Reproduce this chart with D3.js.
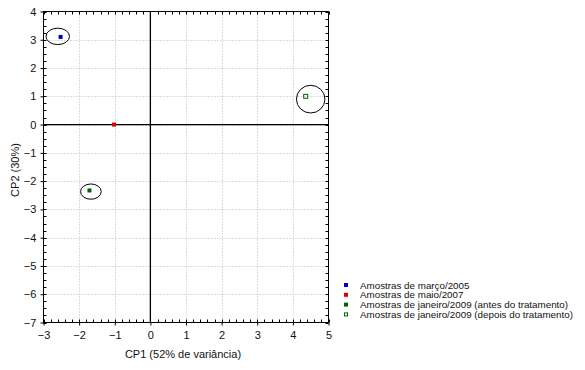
<!DOCTYPE html>
<html><head><meta charset="utf-8">
<script src="https://cdn.jsdelivr.net/npm/d3@7"></script>
<style>body{margin:0;background:#fff}svg{display:block;font-family:"Liberation Sans",Arial,sans-serif}</style>
</head><body>
<script>
const seriesNames = ["Amostras de março/2005","Amostras de maio/2007","Amostras de janeiro/2009 (antes do tratamento)","Amostras de janeiro/2009 (depois do tratamento)"];
const seriesColors = ["#0000cc","#dd0000","#006600","#006600"];
const seriesFilled = [true,true,true,false];
const cp1 = [-2.52,-1.02,-1.71,4.36];
const cp2 = [3.10,0.0,-2.33,1.00];
// ellipses around groups: center x, center y, radius x, radius y (data units)
const ellCx = [-2.6, null, -1.67, 4.5];
const ellCy = [3.12, null, -2.37, 0.9];
const ellRx = [0.33, null, 0.29, 0.4];
const ellRy = [0.29, null, 0.27, 0.49];
const xTicks = [-3,-2,-1,0,1,2,3,4,5];
const yTicks = [4,3,2,1,0,-1,-2,-3,-4,-5,-6,-7];
const xLabel = "CP1 (52% de variância)";
const yLabel = "CP2 (30%)";

const W=585,H=370;
const svg=d3.select("body").append("svg").attr("width",W).attr("height",H);
const x=d3.scaleLinear().domain([-3,5]).range([43.5,328.5]);
const y=d3.scaleLinear().domain([-7,4]).range([322.5,11.5]);

// grid
const g=svg.append("g");
g.selectAll(".gx").data(xTicks.slice(1,-1)).join("line")
 .attr("x1",d=>Math.round(x(d))+0.5).attr("x2",d=>Math.round(x(d))+0.5).attr("y1",y(4)).attr("y2",y(-7))
 .attr("stroke","#bbb").attr("stroke-dasharray","1,2").attr("stroke-width",1);
g.selectAll(".gy").data(yTicks.slice(1,-1)).join("line")
 .attr("y1",d=>Math.round(y(d))+0.5).attr("y2",d=>Math.round(y(d))+0.5).attr("x1",x(-3)).attr("x2",x(5))
 .attr("stroke","#bbb").attr("stroke-dasharray","1,2").attr("stroke-width",1);

// minor ticks (inward)
const xMinor=d3.range(-3,5.0001,0.2);
const yMinor=d3.range(-7,4.0001,0.25);
const tk=svg.append("g").attr("stroke","#000").attr("stroke-width",1);
xMinor.forEach(v=>{const px=Math.round(x(v))+0.5;
 tk.append("line").attr("x1",px).attr("x2",px).attr("y1",y(-7)).attr("y2",y(-7)-3);
 tk.append("line").attr("x1",px).attr("x2",px).attr("y1",y(4)).attr("y2",y(4)+3);});
yMinor.forEach(v=>{const py=Math.round(y(v))+0.5;
 tk.append("line").attr("y1",py).attr("y2",py).attr("x1",x(-3)).attr("x2",x(-3)+3);
 tk.append("line").attr("y1",py).attr("y2",py).attr("x1",x(5)).attr("x2",x(5)-3);});

// axes with major outward ticks
const ax=svg.append("g").attr("transform",`translate(0,${y(-7)})`)
 .call(d3.axisBottom(x).tickValues(xTicks).tickSize(3).tickSizeOuter(0).tickFormat(d3.format("d")));
const ay=svg.append("g").attr("transform",`translate(${x(-3)},0)`)
 .call(d3.axisLeft(y).tickValues(yTicks).tickSize(3).tickSizeOuter(0).tickFormat(d3.format("d")));
[ax,ay].forEach(a=>{a.select(".domain").remove();a.selectAll("text").attr("font-size",11).attr("fill","#111").attr("font-family","'Liberation Sans',Arial,sans-serif");});
ax.selectAll("text").attr("dy","0.95em");
ay.selectAll("text").attr("dx","-0.1em");

// frame
svg.append("rect").attr("x",x(-3)).attr("y",y(4)).attr("width",x(5)-x(-3)).attr("height",y(-7)-y(4))
 .attr("fill","none").attr("stroke","#000").attr("stroke-width",1);
// zero lines
svg.append("line").attr("x1",x(-3)).attr("x2",x(5)).attr("y1",y(0)).attr("y2",y(0)).attr("stroke","#000").attr("stroke-width",1.3);
svg.append("line").attr("x1",x(0)).attr("x2",x(0)).attr("y1",y(4)).attr("y2",y(-7)).attr("stroke","#000").attr("stroke-width",1.3);

// ellipses
const ellIdx=d3.range(ellCx.length).filter(i=>ellCx[i]!==null);
svg.selectAll(".ell").data(ellIdx).join("ellipse")
 .attr("cx",i=>x(ellCx[i])).attr("cy",i=>y(ellCy[i]))
 .attr("rx",i=>x(ellRx[i])-x(0)).attr("ry",i=>y(0)-y(ellRy[i]))
 .attr("fill","none").attr("stroke","#000").attr("stroke-width",1);

// points
svg.selectAll(".pt").data(d3.range(cp1.length)).join("rect")
 .attr("x",i=>x(cp1[i])-2).attr("y",i=>y(cp2[i])-2).attr("width",4).attr("height",4)
 .attr("fill",i=>seriesFilled[i]?seriesColors[i]:"none")
 .attr("stroke",i=>seriesColors[i]).attr("stroke-width",i=>seriesFilled[i]?0:1);

// axis titles
svg.append("text").attr("x",183).attr("y",358).attr("text-anchor","middle").attr("font-size",11).attr("fill","#111").text(xLabel);
svg.append("text").attr("transform","translate(19,170) rotate(-90)").attr("text-anchor","middle").attr("font-size",11).attr("fill","#111").text(yLabel);

// legend
const lg=svg.append("g").attr("transform","translate(343,285)");
const row=lg.selectAll("g").data(seriesNames).join("g").attr("transform",(d,i)=>`translate(0,${i*9.8})`);
row.append("rect").attr("x",(d,i)=>seriesFilled[i]?1:1.5).attr("y",(d,i)=>seriesFilled[i]?-2:-1.5)
 .attr("width",(d,i)=>seriesFilled[i]?4:3).attr("height",(d,i)=>seriesFilled[i]?4:3)
 .attr("fill",(d,i)=>seriesFilled[i]?seriesColors[i]:"none").attr("stroke",(d,i)=>seriesColors[i]).attr("stroke-width",(d,i)=>seriesFilled[i]?0:1);
row.append("text").attr("x",17).attr("y",3.5).attr("font-size",9.8).attr("fill","#111").text(d=>d);
</script>
</body></html>
